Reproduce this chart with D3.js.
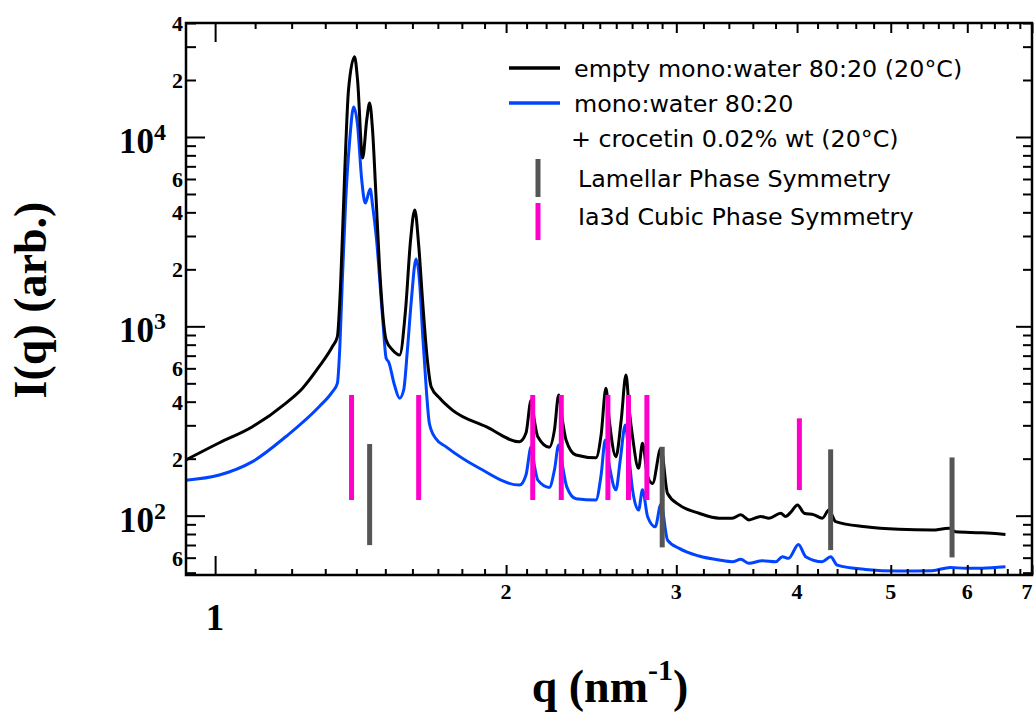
<!DOCTYPE html>
<html>
<head>
<meta charset="utf-8">
<script src="https://cdn.jsdelivr.net/npm/d3@7"></script>
<style>
  body { margin: 0; background: #fff; }
  svg { display: block; }
</style>
</head>
<body>
<svg id="chart" width="1034" height="715"></svg>
<script>
// SAXS profiles: [q (nm^-1), I(q) (arb.)]
const emptyMono = [
  [0.933,197],[1.009,242],[1.093,295],[1.183,392],[1.231,470],[1.281,612],[1.322,780],[1.338,881],
  [1.349,1756],[1.362,6690],[1.374,17700],[1.394,26500],[1.404,20000],[1.421,7750],[1.435,12300],
  [1.445,15100],[1.455,10900],[1.466,5250],[1.480,1980],[1.503,846],[1.526,750],[1.552,706],
  [1.574,1220],[1.593,2860],[1.609,4120],[1.624,2690],[1.640,1320],[1.658,664],[1.673,480],
  [1.707,418],[1.760,361],[1.907,295],[2.065,246],[2.097,273],[2.123,408],[2.139,320],[2.157,261],
  [2.217,230],[2.244,283],[2.267,434],[2.287,320],[2.307,251],[2.362,209],[2.477,202],[2.508,267],
  [2.537,471],[2.557,320],[2.598,205],[2.631,320],[2.661,553],[2.682,361],[2.703,261],[2.742,178],
  [2.768,241],[2.802,161],[2.835,148],[2.892,227],[2.938,131],[3.021,114],[3.167,103],[3.322,97],
  [3.428,97],[3.498,101],[3.567,95],[3.668,99],[3.741,97],[3.847,103],[3.893,99],[3.939,104],
  [4.004,114],[4.068,103],[4.165,101],[4.248,97],[4.315,107],[4.385,93],[4.708,87.4],[5.097,84.7],
  [5.517,83.9],[5.741,85.7],[5.834,82.2],[6.215,81.2],[6.571,79.6]
];
const crocetinMono = [
  [0.933,154],[1.010,164],[1.093,193],[1.183,261],[1.281,376],[1.322,451],[1.338,500],[1.346,780],
  [1.354,1756],[1.365,4650],[1.378,9640],[1.391,14400],[1.404,11570],[1.418,5930],[1.430,4480],
  [1.447,5310],[1.455,4370],[1.468,2970],[1.491,1080],[1.503,678],[1.512,648],[1.533,490],
  [1.552,417],[1.567,461],[1.581,750],[1.596,1377],[1.614,2270],[1.627,1756],[1.640,881],
  [1.654,461],[1.666,307],[1.690,257],[1.734,231],[1.877,178],[2.065,145],[2.097,164],[2.123,231],
  [2.139,185],[2.157,154],[2.217,141],[2.244,174],[2.267,236],[2.287,185],[2.311,142],[2.362,123],
  [2.477,121],[2.508,164],[2.533,251],[2.557,185],[2.598,137],[2.625,197],[2.657,301],[2.682,197],
  [2.703,137],[2.742,107],[2.768,137],[2.802,98.7],[2.853,87.4],[2.892,115],[2.938,74.3],
  [3.021,67.2],[3.167,61.2],[3.322,58.3],[3.428,57.1],[3.498,58.8],[3.567,56],[3.682,57.8],
  [3.802,57.1],[3.863,60.7],[3.920,59.5],[4.013,70.4],[4.083,60.7],[4.248,57.1],[4.333,60.7],
  [4.402,54.8],[4.708,52],[5.097,51],[5.517,51.2],[5.763,53.3],[5.972,52.7],[6.215,52.8],[6.571,53.7]
];

// Indexed reflections: position q and the intensity span of each marker bar
const lamellarQ    = [1.445, 2.901, 4.333, 5.786];
const lamellarSpan = [[69.9,239],[68,231],[65.8,224],[60.2,203]];
const cubicQ       = [1.384, 1.624, 2.131, 2.281, 2.549, 2.677, 2.797, 4.022];
const cubicSpan    = [[121,434],[121,434],[121,434],[121,434],[121,434],[121,434],[121,434],[136.6,326.6]];

// Axis ticks and labels
const xTickLabels = [1, 2, 3, 4, 5, 6, 7];
const yDecades    = [100, 1000, 10000];
const yDigitTicks = [60, 200, 400, 600, 2000, 4000, 6000, 20000, 40000];

const seriesNames = ["empty mono:water 80:20 (20°C)", "mono:water 80:20", "+ crocetin 0.02% wt (20°C)"];
const markerNames = ["Lamellar Phase Symmetry", "Ia3d Cubic Phase Symmetry"];

const colors = { empty: "#000000", crocetin: "#0044ff", lamellar: "#555555", cubic: "#ff00cc" };

const svg = d3.select("#chart");
const L = 186, R = 1032, T = 23, B = 575;
const W = 1034;
const serif = "'Liberation Serif', 'Times New Roman', serif";
const sans = "'DejaVu Sans', Verdana, sans-serif";

const x = d3.scaleLog().domain([0.933, 7]).range([L, R]);
const y = d3.scaleLog().domain([48.6, 40000]).range([B, T]);

// Tick sets
const xMinor = [];
for (let v = 1.1; v < 1.95; v += 0.1) xMinor.push(+v.toFixed(1));
for (let v = 2.1; v < 2.95; v += 0.1) xMinor.push(+v.toFixed(1));
for (let v = 3.2; v < 6.95; v += 0.2) { const r = +v.toFixed(1); if (!xTickLabels.includes(r)) xMinor.push(r); }
const xMid = xTickLabels.filter(d => d !== 1);
const yMinor = [];
[10, 100, 1000, 10000].forEach(dec => {
  for (let m = 2; m <= 9; m++) { const v = m * dec; if (v >= 48.6 && v <= 40000) yMinor.push(v); }
});

svg.append("defs").append("clipPath").attr("id", "plotArea")
  .append("rect").attr("x", L).attr("y", T).attr("width", R - L).attr("height", B - T);

// Scattering curves
const line = d3.line().x(d => x(d[0])).y(d => y(d[1])).curve(d3.curveMonotoneX);
const curves = svg.append("g").attr("clip-path", "url(#plotArea)");
curves.append("path").datum(crocetinMono).attr("d", line)
  .attr("fill", "none").attr("stroke", colors.crocetin).attr("stroke-width", 3).attr("stroke-linejoin", "round");
curves.append("path").datum(emptyMono).attr("d", line)
  .attr("fill", "none").attr("stroke", colors.empty).attr("stroke-width", 3).attr("stroke-linejoin", "round");

// Reflection markers, drawn over the curves
const markers = svg.append("g").attr("clip-path", "url(#plotArea)");
markers.selectAll("line.cubic").data(cubicQ).join("line").attr("class", "cubic")
  .attr("x1", d => x(d)).attr("x2", d => x(d))
  .attr("y1", (d, i) => y(cubicSpan[i][0])).attr("y2", (d, i) => y(cubicSpan[i][1]))
  .attr("stroke", colors.cubic).attr("stroke-width", 5);
markers.selectAll("line.lam").data(lamellarQ).join("line").attr("class", "lam")
  .attr("x1", d => x(d)).attr("x2", d => x(d))
  .attr("y1", (d, i) => y(lamellarSpan[i][0])).attr("y2", (d, i) => y(lamellarSpan[i][1]))
  .attr("stroke", colors.lamellar).attr("stroke-width", 5);

// Inward ticks on all four sides
function tickSet(axisFn, scale, values, len, tx, ty) {
  svg.append("g").attr("transform", `translate(${tx},${ty})`)
    .call(axisFn(scale).tickValues(values).tickSizeInner(-len).tickSizeOuter(0).tickFormat(""))
    .call(g => g.select(".domain").remove())
    .call(g => g.selectAll("line").attr("stroke", "#000").attr("stroke-width", 2));
}
tickSet(d3.axisBottom, x, [1], 19, 0, B);
tickSet(d3.axisBottom, x, xMid, 10, 0, B);
tickSet(d3.axisBottom, x, xMinor, 6, 0, B);
tickSet(d3.axisTop, x, [1], 19, 0, T);
tickSet(d3.axisTop, x, xMid, 10, 0, T);
tickSet(d3.axisTop, x, xMinor, 6, 0, T);
tickSet(d3.axisLeft, y, yDecades, 19, L, 0);
tickSet(d3.axisLeft, y, yMinor, 10, L, 0);
tickSet(d3.axisRight, y, yDecades, 16, R, 0);
tickSet(d3.axisRight, y, yMinor, 9, R, 0);

// Frame
svg.append("rect").attr("x", L).attr("y", T).attr("width", R - L).attr("height", B - T)
  .attr("fill", "none").attr("stroke", "#000").attr("stroke-width", 2.5);

// X tick labels (the last one is kept inside the page edge)
svg.append("g").selectAll("text").data(xTickLabels).join("text")
  .attr("x", d => Math.min(x(d), W - 7)).attr("y", d => d === 1 ? 630 : 599)
  .attr("text-anchor", "middle")
  .attr("font-family", serif).attr("font-weight", "bold")
  .attr("font-size", d => d === 1 ? 37 : 22)
  .text(d => d);

// Y tick labels: single digits for intermediate ticks, powers of ten at decades
svg.append("g").selectAll("text").data(yDigitTicks).join("text")
  .attr("x", 183).attr("y", d => y(d) + 8)
  .attr("text-anchor", "end")
  .attr("font-family", serif).attr("font-weight", "bold").attr("font-size", 22)
  .text(d => String(d)[0]);
const decadeLabels = svg.append("g").selectAll("text").data(yDecades).join("text")
  .attr("x", 166).attr("y", d => y(d) + 16)
  .attr("text-anchor", "end")
  .attr("font-family", serif).attr("font-weight", "bold").attr("font-size", 35);
decadeLabels.append("tspan").text("10");
decadeLabels.append("tspan").attr("dy", -13).attr("font-size", 24).text(d => Math.round(Math.log10(d)));

// Axis titles
svg.append("text")
  .attr("transform", "translate(46,300) rotate(-90)")
  .attr("text-anchor", "middle")
  .attr("font-family", serif).attr("font-weight", "bold").attr("font-size", 46)
  .text("I(q) (arb.)");
const xTitle = svg.append("text")
  .attr("x", 610).attr("y", 702).attr("text-anchor", "middle")
  .attr("font-family", serif).attr("font-weight", "bold").attr("font-size", 46);
xTitle.append("tspan").text("q (nm");
xTitle.append("tspan").attr("dy", -22).attr("font-size", 30).text("-1");
xTitle.append("tspan").attr("dy", 22).text(")");

// Legend
const legend = svg.append("g").attr("font-family", sans).attr("font-size", 23.8).attr("fill", "#000");
const legendLines = [
  { color: colors.empty, y: 68, labels: [[574, 77, seriesNames[0]]] },
  { color: colors.crocetin, y: 103, labels: [[574, 112, seriesNames[1]], [571, 147, seriesNames[2]]] }
];
legendLines.forEach(e => {
  legend.append("line").attr("x1", 509).attr("x2", 560).attr("y1", e.y).attr("y2", e.y)
    .attr("stroke", e.color).attr("stroke-width", 3.5);
  e.labels.forEach(([lx, ly, t]) => legend.append("text").attr("x", lx).attr("y", ly).text(t));
});
const legendBars = [
  { color: colors.lamellar, y1: 159, y2: 197, ty: 187, label: markerNames[0] },
  { color: colors.cubic, y1: 203, y2: 240, ty: 225, label: markerNames[1] }
];
legendBars.forEach(e => {
  legend.append("line").attr("x1", 538).attr("x2", 538).attr("y1", e.y1).attr("y2", e.y2)
    .attr("stroke", e.color).attr("stroke-width", 5);
  legend.append("text").attr("x", 578).attr("y", e.ty).text(e.label);
});
</script>
</body>
</html>
